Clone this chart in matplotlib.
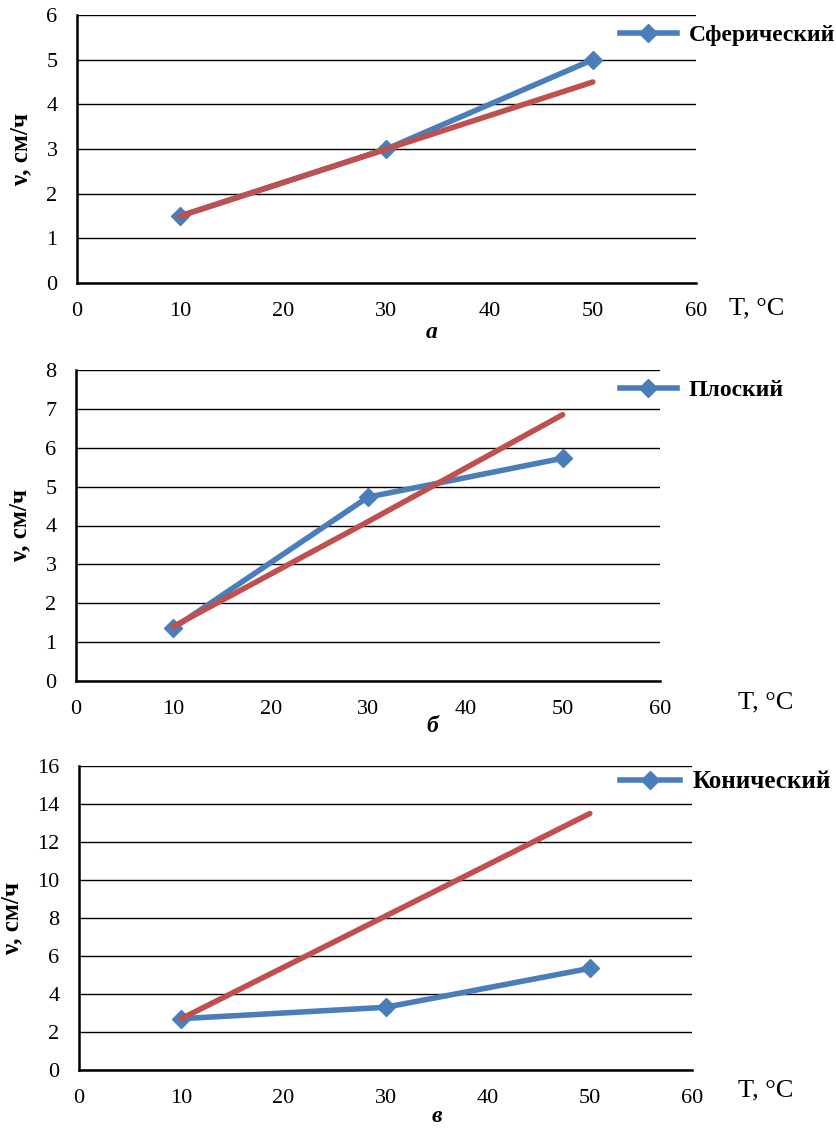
import matplotlib
matplotlib.use("Agg")
from matplotlib import pyplot as plt

plt.rcParams['font.family'] = ['Liberation Serif', 'DejaVu Serif']

temps = [10, 30, 50]

sph_meas = [1.5, 3.0, 5.0]
sph_calc = [1.5, 3.0, 4.5]

flat_meas = [1.36, 4.73, 5.73]
flat_calc = [1.4, 4.1, 6.85]

con_meas = [2.7, 3.3, 5.35]
con_calc = [2.7, 8.1, 13.5]

names = ['Сферический', 'Плоский', 'Конический']
letters = ['а', 'б', 'в']
ymax = [6, 8, 16]
ystep = [1, 1, 2]

blue = '#4a7ebb'
red = '#c0504d'

W, H = 836, 1128
fig = plt.figure(figsize=(W / 100, H / 100), dpi=100)

# axes boxes in pixels: left, top, right, bottom
boxes = [(77, 15, 696, 283), (76, 370, 660, 681), (79, 766, 692, 1070)]
legend_y = [35, 390, 782]
xlab_pos = [(757, 308), (766, 702), (766, 1090)]
letter_pos = [(432, 333), (432, 727), (437, 1117)]
leg_size = [17, 17, 18]

data = [(sph_meas, sph_calc), (flat_meas, flat_calc), (con_meas, con_calc)]

for i in range(3):
    l, t, r, b = boxes[i]
    ax = fig.add_axes([l / W, 1 - b / H, (r - l) / W, (b - t) / H])
    meas, calc = data[i]
    ax.plot(temps, meas, color=blue, lw=4, marker='D', ms=9,
            mfc=blue, mec=blue, label=names[i], zorder=3)
    ax.plot(temps, calc, color=red, lw=4, solid_capstyle='round', zorder=4)
    ax.set_xlim(0, 60)
    ax.set_ylim(0, ymax[i])
    ax.set_xticks(range(0, 61, 10))
    ax.set_yticks(range(0, ymax[i] + 1, ystep[i]))
    ax.yaxis.grid(True, color='black', lw=1.0)
    ax.set_axisbelow(True)
    for s in ['top', 'right']:
        ax.spines[s].set_visible(False)
    for s in ['left', 'bottom']:
        ax.spines[s].set_linewidth(1.8)
    ax.tick_params(length=0, labelsize=16)
    ax.tick_params(axis='y', pad=14)
    ax.tick_params(axis='x', pad=14)
    ax.set_ylabel('ν, см/ч', fontsize=18, fontweight='bold', labelpad=10)
    ax.legend(loc='center left', bbox_to_anchor=(620 / W, 1 - legend_y[i] / H),
              bbox_transform=fig.transFigure, frameon=False, handlelength=2.4,
              borderaxespad=0, borderpad=0, handletextpad=0.5,
              prop={'size': leg_size[i], 'weight': 'bold'})
    fig.text(xlab_pos[i][0] / W, 1 - xlab_pos[i][1] / H, 'T, °C', fontsize=19,
             ha='center', va='center')
    fig.text(letter_pos[i][0] / W, 1 - letter_pos[i][1] / H, letters[i], fontsize=17,
             style='italic', fontweight='bold', ha='center', va='center')

fig.savefig('out.png', dpi=100, facecolor='white')
